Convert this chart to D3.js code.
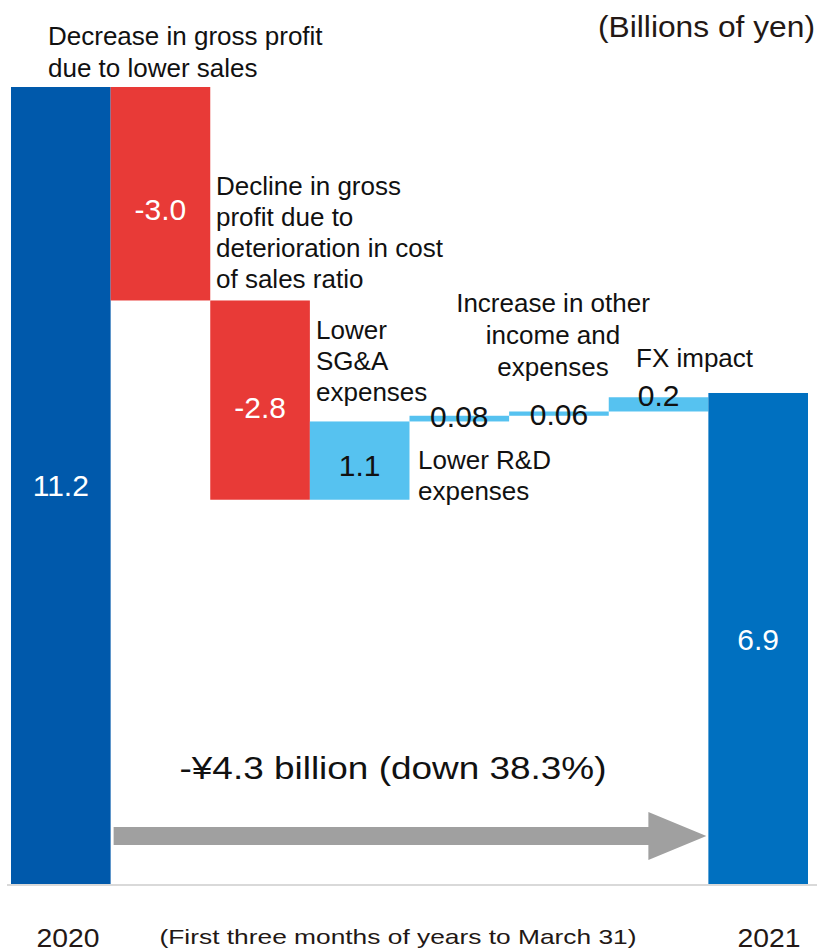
<!DOCTYPE html>
<html>
<head>
<meta charset="utf-8">
<script src="https://cdn.jsdelivr.net/npm/d3@7"></script>
<style>
  html, body { margin: 0; padding: 0; background: #fff; }
  svg { display: block; font-family: "Liberation Sans", Arial, sans-serif; }
</style>
</head>
<body>
<svg id="chart" width="819" height="952"></svg>
<script>
// Operating income bridge, first quarter 2020 -> 2021 (billions of yen)
const categories = ["2020", "sales", "costRatio", "sga", "rnd", "other", "fx", "2021"];
const values = [11.2, -3.0, -2.8, 1.1, 0.08, 0.06, 0.2, 6.9];
const valueLabels = ["11.2", "-3.0", "-2.8", "1.1", "0.08", "0.06", "0.2", "6.9"];
const isTotal = [true, false, false, false, false, false, false, true];

const svg = d3.select("#chart");

const x = d3.scaleBand().domain(categories).range([11, 808]).padding(0);
const y = d3.scaleLinear().domain([0, 11.2]).range([884, 87]);

// Build waterfall segments: totals start at zero, changes float on the running sum
let running = 0;
const bars = categories.map((c, i) => {
  let lo, hi;
  if (isTotal[i]) { lo = 0; hi = values[i]; running = values[i]; }
  else { const start = running; running += values[i]; lo = Math.min(start, running); hi = Math.max(start, running); }
  return { c, i, lo, hi, v: values[i] };
});

function fill(d) {
  if (d.i === 0) return "#0059AB";
  if (d.i === categories.length - 1) return "#0070C0";
  return d.v < 0 ? "#E83A37" : "#56C2F0";
}

svg.append("g").selectAll("rect").data(bars).join("rect")
  .attr("x", d => x(d.c))
  .attr("width", x.bandwidth())
  .attr("y", d => y(d.hi))
  .attr("height", d => y(d.lo) - y(d.hi))
  .attr("fill", fill);

// Baseline
svg.append("line")
  .attr("x1", 7).attr("x2", 817)
  .attr("y1", y(0) + 1).attr("y2", y(0) + 1)
  .attr("stroke", "#D9D9D9").attr("stroke-width", 2);

// Value labels
const labelDy = [0, 16, 7, 5, -2, 1, -9, 1];
svg.append("g").selectAll("text").data(bars).join("text")
  .attr("x", d => x(d.c) + x.bandwidth() / 2)
  .attr("y", d => (y(d.hi) + y(d.lo)) / 2 + labelDy[d.i])
  .attr("dy", "0.35em")
  .attr("text-anchor", "middle")
  .attr("font-size", 30)
  .attr("fill", d => (isTotal[d.i] || d.v < 0) ? "#fff" : "#111")
  .text(d => valueLabels[d.i]);

// Change arrow between the two years
const ax0 = x("2020") + x.bandwidth() + 3;
const ax1 = x("2021") - 2;
const ay = 836;
svg.append("path")
  .attr("d", `M${ax0},${ay - 9} L${ax1 - 58},${ay - 9} L${ax1 - 58},${ay - 24} L${ax1},${ay} L${ax1 - 58},${ay + 24} L${ax1 - 58},${ay + 9} L${ax0},${ay + 9} Z`)
  .attr("fill", "#A0A0A0");

svg.append("text")
  .attr("x", 393).attr("y", 779)
  .attr("text-anchor", "middle")
  .attr("font-size", 32)
  .attr("textLength", 427).attr("lengthAdjust", "spacingAndGlyphs")
  .attr("fill", "#111")
  .text("-¥4.3 billion (down 38.3%)");

// Annotation blocks
function block(lines, x0, y0, lh, anchor, size) {
  const t = svg.append("text")
    .attr("font-size", size)
    .attr("fill", "#111")
    .attr("text-anchor", anchor || "start");
  lines.forEach((s, k) => t.append("tspan").attr("x", x0).attr("y", y0 + k * lh).text(s));
}
block(["Decrease in gross profit", "due to lower sales"], 48, 45, 32, "start", 26);
block(["Decline in gross", "profit due to", "deterioration in cost", "of sales ratio"], 216, 195, 31, "start", 26);
block(["Lower", "SG&A", "expenses"], 316, 339, 31, "start", 26);
block(["Lower R&D", "expenses"], 418, 469, 31, "start", 26);
block(["Increase in other", "income and", "expenses"], 553, 312, 32, "middle", 26);
block(["FX impact"], 636, 367, 31, "start", 26);

// Unit note
svg.append("text")
  .attr("x", 815).attr("y", 37)
  .attr("text-anchor", "end")
  .attr("font-size", 30)
  .attr("textLength", 217).attr("lengthAdjust", "spacingAndGlyphs")
  .attr("fill", "#231815")
  .text("(Billions of yen)");

// Category captions
const captionY = 947;
svg.append("text").attr("x", 68).attr("y", captionY)
  .attr("text-anchor", "middle").attr("font-size", 26).attr("fill", "#231815")
  .attr("textLength", 63).attr("lengthAdjust", "spacingAndGlyphs").text("2020");
svg.append("text").attr("x", 769).attr("y", captionY)
  .attr("text-anchor", "middle").attr("font-size", 26).attr("fill", "#231815")
  .attr("textLength", 63).attr("lengthAdjust", "spacingAndGlyphs").text("2021");
svg.append("text").attr("x", 398).attr("y", 944)
  .attr("text-anchor", "middle").attr("font-size", 21).attr("fill", "#231815")
  .attr("textLength", 477).attr("lengthAdjust", "spacingAndGlyphs")
  .text("(First three months of years to March 31)");
</script>
</body>
</html>
